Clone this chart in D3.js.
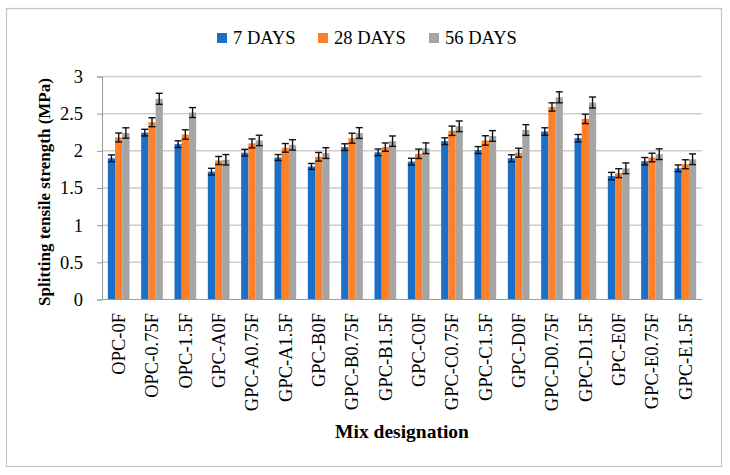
<!DOCTYPE html>
<html>
<head>
<meta charset="utf-8">
<script src="https://cdn.jsdelivr.net/npm/d3@7"></script>
<style>
  body { margin: 0; background: #fff; }
</style>
</head>
<body>
<script>
var WIDTH = 730;
var HEIGHT = 475;
var FONT = 'Liberation Serif';

var mixes = ['OPC-0F', 'OPC-0.75F', 'OPC-1.5F', 'GPC-A0F', 'GPC-A0.75F', 'GPC-A1.5F',
    'GPC-B0F', 'GPC-B0.75F', 'GPC-B1.5F', 'GPC-C0F', 'GPC-C0.75F', 'GPC-C1.5F',
    'GPC-D0F', 'GPC-D0.75F', 'GPC-D1.5F', 'GPC-E0F', 'GPC-E0.75F', 'GPC-E1.5F'];
var seriesNames = ['7 DAYS', '28 DAYS', '56 DAYS'];
var seriesColors = ['#1c6fc6', '#fd7f28', '#a5a5a5'];

var days7  = [1.90, 2.245, 2.09, 1.72, 1.975, 1.91, 1.79, 2.05, 1.98, 1.855, 2.13, 2.01, 1.90, 2.26, 2.17, 1.66, 1.86, 1.765];
var days28 = [2.18, 2.385, 2.22, 1.87, 2.10, 2.04, 1.92, 2.17, 2.05, 1.96, 2.27, 2.14, 1.975, 2.59, 2.43, 1.70, 1.91, 1.82];
var days56 = [2.24, 2.70, 2.515, 1.88, 2.14, 2.08, 1.97, 2.24, 2.13, 2.035, 2.33, 2.20, 2.28, 2.72, 2.65, 1.765, 1.955, 1.887];

var err7  = [0.045, 0.045, 0.045, 0.045, 0.045, 0.04, 0.04, 0.045, 0.045, 0.045, 0.045, 0.047, 0.047, 0.05, 0.05, 0.05, 0.05, 0.045];
var err28 = [0.06, 0.06, 0.063, 0.054, 0.06, 0.058, 0.058, 0.067, 0.056, 0.063, 0.063, 0.063, 0.06, 0.056, 0.063, 0.06, 0.058, 0.06];
var err56 = [0.07, 0.074, 0.067, 0.07, 0.07, 0.07, 0.072, 0.072, 0.07, 0.072, 0.072, 0.072, 0.072, 0.074, 0.074, 0.072, 0.072, 0.072];

var yTicks = [0, 0.5, 1, 1.5, 2, 2.5, 3];

var allValues = [days7, days28, days56];
var allErrors = [err7, err28, err56];

var PLOT_LEFT = 102, PLOT_RIGHT = 702, PLOT_TOP = 76.5, PLOT_BOTTOM = 299.5;

var svg = d3.select('body').append('svg')
    .attr('width', WIDTH)
    .attr('height', HEIGHT);

// chart border
svg.append('rect')
    .attr('x', 6.5).attr('y', 8.5)
    .attr('width', 715).attr('height', 458)
    .attr('fill', 'white')
    .attr('stroke', '#c4c4c4')
    .attr('stroke-width', 1.2);

var x0 = d3.scaleBand().domain(mixes).range([PLOT_LEFT, PLOT_RIGHT]).paddingInner(0.35).paddingOuter(0.175);
var x1 = d3.scaleBand().domain(d3.range(3)).range([0, x0.bandwidth()]);
var y = d3.scaleLinear().domain([0, 3]).range([PLOT_BOTTOM, PLOT_TOP]);

// gridlines
svg.selectAll('.grid').data(yTicks.filter(function(d){return d > 0;})).enter()
    .append('line')
    .attr('class', 'grid')
    .attr('x1', PLOT_LEFT).attr('x2', PLOT_RIGHT)
    .attr('y1', function(d){return y(d);}).attr('y2', function(d){return y(d);})
    .attr('stroke', '#cdcdcd')
    .attr('stroke-width', 1.5);

// y axis
var yAxis = svg.append('g')
    .attr('transform', 'translate(' + PLOT_LEFT + ',0)')
    .call(d3.axisLeft(y).tickValues(yTicks).tickSize(5).tickPadding(14).tickFormat(function(d){return String(d);}));
yAxis.attr('font-family', FONT).attr('font-size', 18.5);
yAxis.select('.domain').attr('stroke', '#9a9a9a');
yAxis.selectAll('.tick line').attr('stroke', '#9a9a9a');
yAxis.selectAll('.tick text')
    .attr('font-family', FONT)
    .attr('font-size', 18.5)
    .attr('fill', '#000');

// bars
var groups = svg.selectAll('.group').data(mixes).enter()
    .append('g')
    .attr('class', 'group')
    .attr('transform', function(d){return 'translate(' + x0(d) + ',0)';});

groups.selectAll('rect').data(function(d, i){
        return d3.range(3).map(function(s){return {s: s, v: allValues[s][i], e: allErrors[s][i]};});
    }).enter()
    .append('rect')
    .attr('x', function(d){return x1(d.s);})
    .attr('y', function(d){return y(d.v);})
    .attr('width', x1.bandwidth())
    .attr('height', function(d){return y(0) - y(d.v);})
    .attr('fill', function(d){return seriesColors[d.s];});

// error bars
var eb = groups.selectAll('.err').data(function(d, i){
        return d3.range(3).map(function(s){return {s: s, v: allValues[s][i], e: allErrors[s][i]};});
    }).enter()
    .append('g')
    .attr('class', 'err')
    .attr('stroke', '#111')
    .attr('stroke-width', 1.4);
eb.append('line')
    .attr('x1', function(d){return x1(d.s) + x1.bandwidth()/2;})
    .attr('x2', function(d){return x1(d.s) + x1.bandwidth()/2;})
    .attr('y1', function(d){return y(d.v + d.e);})
    .attr('y2', function(d){return y(d.v - d.e);});
eb.append('line')
    .attr('x1', function(d){return x1(d.s) + x1.bandwidth()/2 - 3.5;})
    .attr('x2', function(d){return x1(d.s) + x1.bandwidth()/2 + 3.5;})
    .attr('y1', function(d){return y(d.v + d.e);})
    .attr('y2', function(d){return y(d.v + d.e);});
eb.append('line')
    .attr('x1', function(d){return x1(d.s) + x1.bandwidth()/2 - 3.5;})
    .attr('x2', function(d){return x1(d.s) + x1.bandwidth()/2 + 3.5;})
    .attr('y1', function(d){return y(d.v - d.e);})
    .attr('y2', function(d){return y(d.v - d.e);});

// x axis line
svg.append('line')
    .attr('x1', PLOT_LEFT).attr('x2', PLOT_RIGHT)
    .attr('y1', PLOT_BOTTOM).attr('y2', PLOT_BOTTOM)
    .attr('stroke', '#9a9a9a');

// x labels
svg.selectAll('.xlabel').data(mixes).enter()
    .append('text')
    .attr('class', 'xlabel')
    .attr('transform', function(d){return 'translate(' + (x0(d) + x0.bandwidth()/2) + ',313) rotate(-90)';})
    .attr('text-anchor', 'end')
    .attr('dy', '0.35em')
    .attr('font-family', FONT)
    .attr('font-size', 18.5)
    .text(function(d){return d;});

// axis titles
svg.append('text')
    .attr('x', (PLOT_LEFT + PLOT_RIGHT)/2)
    .attr('y', 438)
    .attr('text-anchor', 'middle')
    .attr('font-family', FONT)
    .attr('font-size', 19.5)
    .attr('font-weight', 'bold')
    .text('Mix designation');

svg.append('text')
    .attr('transform', 'translate(44,' + 192 + ') rotate(-90)')
    .attr('text-anchor', 'middle')
    .attr('dy', '0.35em')
    .attr('font-family', FONT)
    .attr('font-size', 17)
    .attr('font-weight', 'bold')
    .text('Splitting tensile strength (MPa)');

// legend
var legendX = [217, 318, 429];
var legend = svg.selectAll('.legend').data(seriesNames).enter()
    .append('g')
    .attr('class', 'legend')
    .attr('transform', function(d, i){return 'translate(' + legendX[i] + ',38)';});
legend.append('rect')
    .attr('x', 0).attr('y', -5)
    .attr('width', 10).attr('height', 10)
    .attr('fill', function(d, i){return seriesColors[i];});
legend.append('text')
    .attr('x', 16)
    .attr('dy', '0.35em')
    .attr('font-family', FONT)
    .attr('font-size', 18.5)
    .text(function(d){return d;});
</script>
</body>
</html>
